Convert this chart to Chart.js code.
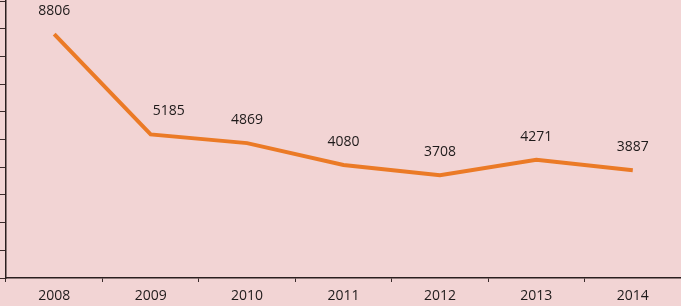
<!DOCTYPE html>
<html>
<head>
  <title>Line chart 2008-2014</title>
  <script src="https://cdn.jsdelivr.net/npm/chart.js"></script>
  <style>
    html, body { margin: 0; padding: 0; background: #f2d4d4; }
    #wrap { position: relative; width: 681px; height: 306px; }
  </style>
</head>
<body>
  <div id="wrap"><canvas id="myChart"></canvas></div>

  <script>
    const years = ['2008', '2009', '2010', '2011', '2012', '2013', '2014'];
    const counts = [8806, 5185, 4869, 4080, 3708, 4271, 3887];

    // values written above each point (the 2009 one sits a little to the right, as in the original)
    const pointLabels = {
      id: 'pointLabels',
      afterDatasetsDraw(chart) {
        const ctx = chart.ctx;
        const meta = chart.getDatasetMeta(0);
        ctx.save();
        ctx.font = '14px "Open Sans"';
        ctx.fillStyle = '#1e1a1a';
        ctx.textAlign = 'center';
        ctx.textBaseline = 'middle';
        meta.data.forEach((pt, i) => {
          const dx = i === 1 ? 18 : 0;
          ctx.fillText(String(counts[i]), pt.x + dx, pt.y - 23);
        });
        ctx.restore();
      }
    };

    const config = {
      type: 'line',
      data: {
        labels: years,
        datasets: [{
          data: counts,
          borderColor: '#eb7a26',
          backgroundColor: '#eb7a26',
          borderWidth: 4,
          pointRadius: 0,
          tension: 0,
          fill: false,
          borderCapStyle: 'butt'
        }]
      },
      options: {
        responsive: true,
        maintainAspectRatio: false,
        animation: false,
        layout: { padding: { top: 1, right: 0, left: 0, bottom: 0 } },
        scales: {
          x: {
            offset: true,
            grid: {
              offset: true,
              drawOnChartArea: false,
              drawTicks: true,
              tickLength: 4,
              color: '#3a2a2a'
            },
            border: { color: '#2a1e1e', width: 1.5 },
            ticks: {
              font: { family: '"Open Sans"', size: 14 },
              color: '#1e1a1a',
              padding: 6,
              maxRotation: 0
            },
            afterFit(scale) { scale.height = 28; }
          },
          y: {
            min: 0,
            max: 10000,
            grid: {
              drawOnChartArea: false,
              drawTicks: true,
              tickLength: 6,
              color: '#3a2a2a'
            },
            border: { color: '#2a1e1e', width: 1.5 },
            ticks: {
              display: false,
              stepSize: 1000
            }
          }
        },
        plugins: {
          legend: { display: false },
          tooltip: { enabled: false }
        }
      },
      plugins: [pointLabels]
    };

    new Chart(document.getElementById('myChart'), config);
  </script>
</body>
</html>
